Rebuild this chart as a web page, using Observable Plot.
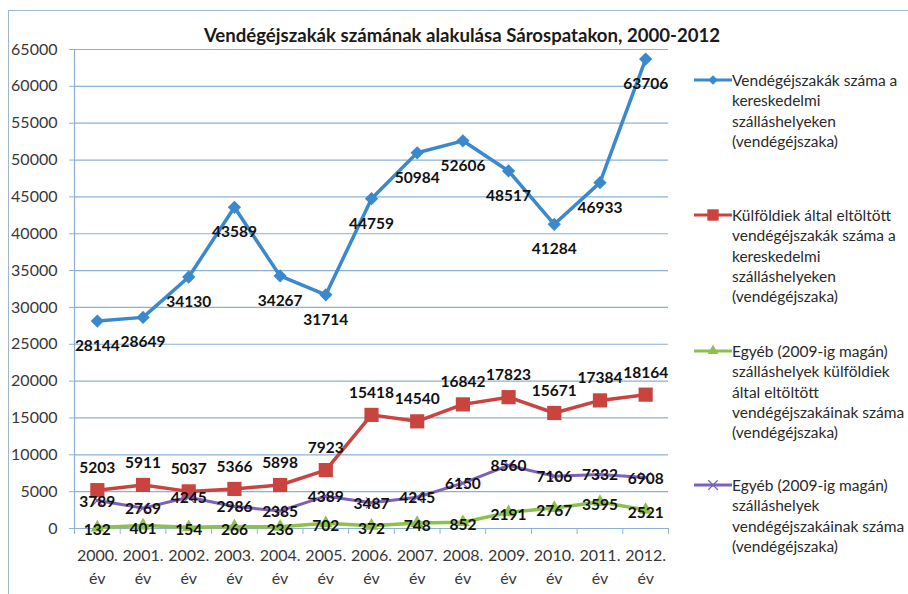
<!DOCTYPE html>
<html>
<head>
<meta charset="utf-8">
<script src="https://cdn.jsdelivr.net/npm/d3@7"></script>
<script src="https://cdn.jsdelivr.net/npm/@observablehq/plot@0.6"></script>
<style>
  html, body { margin: 0; padding: 0; background: #fff; overflow: hidden; }
  #wrap { position: relative; width: 908px; height: 594px; overflow: hidden; font-family: Lato, "Open Sans", sans-serif; }
  #frame { position: absolute; left: 8px; top: 10px; width: 1000px; height: 1000px; border: 1.5px solid #9fb6cf; box-sizing: border-box; }
  #title { position: absolute; left: 0; width: 924px; top: 24px; text-align: center; font-weight: bold; font-size: 18.6px; color: #1a1a1a; }
  .leg { position: absolute; left: 732px; font-size: 15.5px; line-height: 20.4px; color: #2a2a2a; white-space: nowrap; }
  .sw { position: absolute; left: 694px; width: 38px; height: 14px; }
  #chart { position: absolute; left: 0; top: 0; }
</style>
</head>
<body>
<div id="wrap">
  <div id="frame"></div>
  <div id="chart"></div>
  <div id="title">Vendégéjszakák számának alakulása Sárospatakon, 2000-2012</div>
  <div id="legend"></div>
</div>
<script>
const years = [2000, 2001, 2002, 2003, 2004, 2005, 2006, 2007, 2008, 2009, 2010, 2011, 2012];
const total = [28144, 28649, 34130, 43589, 34267, 31714, 44759, 50984, 52606, 48517, 41284, 46933, 63706];
const foreign = [5203, 5911, 5037, 5366, 5898, 7923, 15418, 14540, 16842, 17823, 15671, 17384, 18164];
const otherForeign = [132, 401, 154, 266, 236, 702, 372, 748, 852, 2191, 2767, 3595, 2521];
const other = [3789, 2769, 4245, 2986, 2385, 4389, 3487, 4245, 6150, 8560, 7106, 7332, 6908];
const yTicks = [0, 5000, 10000, 15000, 20000, 25000, 30000, 35000, 40000, 45000, 50000, 55000, 60000, 65000];
const seriesNames = [
  "Vendégéjszakák száma a\nkereskedelmi\nszálláshelyeken\n(vendégéjszaka)",
  "Külföldiek által eltöltött\nvendégéjszakák száma a\nkereskedelmi\nszálláshelyeken\n(vendégéjszaka)",
  "Egyéb (2009-ig magán)\nszálláshelyek külföldiek\náltal eltöltött\nvendégéjszakáinak száma\n(vendégéjszaka)",
  "Egyéb (2009-ig magán)\nszálláshelyek\nvendégéjszakáinak száma\n(vendégéjszaka)"
];
const colors = ["#3a89cd", "#c9433f", "#8dc04c", "#7b62b8"];

const gridColor = "#8db1d3";
const rows = (vals) => years.map((y, i) => ({year: y, value: vals[i]}));
const sTotal = rows(total), sForeign = rows(foreign), sOtherF = rows(otherForeign), sOther = rows(other);
const halfTicks = d3.range(years[0] - 0.5, years[years.length - 1] + 1, 1);
const lbl = {fontWeight: "bold", fontSize: 15.5, fill: "#111"};

const chart = Plot.plot({
  width: 908, height: 594,
  marginLeft: 74, marginRight: 240, marginTop: 49, marginBottom: 66,
  x: {domain: [years[0] - 0.5, years[years.length - 1] + 0.5]},
  y: {domain: [0, 65000]},
  style: {fontFamily: "Lato, sans-serif", fontSize: "16px", color: "#333", background: "transparent"},
  marks: [
    Plot.gridY(yTicks, {stroke: gridColor, strokeOpacity: 1, strokeWidth: 1.2}),
    Plot.axisY(yTicks, {tickSize: 5, tickPadding: 12, stroke: gridColor, strokeOpacity: 1, tickFormat: d => String(d), label: null, fontSize: 16, fill: "#383838"}),
    Plot.ruleX([years[0] - 0.5], {stroke: gridColor, strokeWidth: 1.2}),
    Plot.axisX(halfTicks, {tickSize: 6, stroke: gridColor, strokeOpacity: 1, tickFormat: () => "", label: null}),
    Plot.axisX(years, {tickSize: 0, tickPadding: 16, tickFormat: d => `${d}.\név`, lineHeight: 1.45, label: null, fontSize: 16, fill: "#383838"}),
    Plot.line(sTotal, {x: "year", y: "value", stroke: colors[0], strokeWidth: 3.5}),
    Plot.dot(sTotal, {x: "year", y: "value", symbol: "square", rotate: 45, r: 5.3, fill: colors[0]}),
    Plot.line(sForeign, {x: "year", y: "value", stroke: colors[1], strokeWidth: 3.5}),
    Plot.dot(sForeign, {x: "year", y: "value", symbol: "square", r: 8, fill: colors[1]}),
    Plot.line(sOtherF, {x: "year", y: "value", stroke: colors[2], strokeWidth: 3.5}),
    Plot.dot(sOtherF, {x: "year", y: "value", symbol: "triangle", r: 5, fill: colors[2]}),
    Plot.line(sOther, {x: "year", y: "value", stroke: colors[3], strokeWidth: 3}),
    Plot.dot(sOther, {x: "year", y: "value", symbol: "times", r: 5, stroke: colors[3], strokeWidth: 1.2}),
    Plot.text(sTotal, {x: "year", y: "value", text: d => String(d.value), dy: 25, ...lbl}),
    Plot.text(sForeign, {x: "year", y: "value", text: d => String(d.value), dy: -22, ...lbl}),
    Plot.text(sOther, {x: "year", y: "value", text: d => String(d.value), dy: 1, ...lbl}),
    Plot.text(sOtherF, {x: "year", y: "value", text: d => String(d.value), dy: 3, ...lbl})
  ]
});
document.getElementById("chart").appendChild(chart);

// legend
const legTops = [80, 215, 351, 485];
const symbols = ["diamond", "square", "triangle", "times"];
const legend = document.getElementById("legend");
seriesNames.forEach((name, i) => {
  const cy = legTops[i];
  const t = document.createElement("div");
  t.className = "leg";
  t.style.top = (cy - 10.2) + "px";
  t.innerHTML = name.split("\n").join("<br>");
  legend.appendChild(t);
  const sw = document.createElementNS("http://www.w3.org/2000/svg", "svg");
  sw.setAttribute("class", "sw");
  sw.style.top = (cy - 7) + "px";
  sw.setAttribute("width", 38); sw.setAttribute("height", 14);
  const ln = document.createElementNS("http://www.w3.org/2000/svg", "line");
  ln.setAttribute("x1", 0); ln.setAttribute("x2", 38); ln.setAttribute("y1", 7); ln.setAttribute("y2", 7);
  ln.setAttribute("stroke", colors[i]); ln.setAttribute("stroke-width", 3);
  sw.appendChild(ln);
  const p = document.createElementNS("http://www.w3.org/2000/svg", "path");
  const symMap = {diamond: d3.symbolSquare, square: d3.symbolSquare, triangle: d3.symbolTriangle, times: d3.symbolTimes};
  const sizes = {diamond: 45, square: 130, triangle: 50, times: 60};
  p.setAttribute("d", d3.symbol(symMap[symbols[i]], sizes[symbols[i]])());
  p.setAttribute("transform", symbols[i] === "diamond" ? "translate(19,7) rotate(45)" : "translate(19,7)");
  if (symbols[i] === "times") { p.setAttribute("stroke", colors[i]); p.setAttribute("fill", "none"); p.setAttribute("stroke-width", 1.2); }
  else p.setAttribute("fill", colors[i]);
  sw.appendChild(p);
  legend.appendChild(sw);
});
</script>
</body>
</html>
